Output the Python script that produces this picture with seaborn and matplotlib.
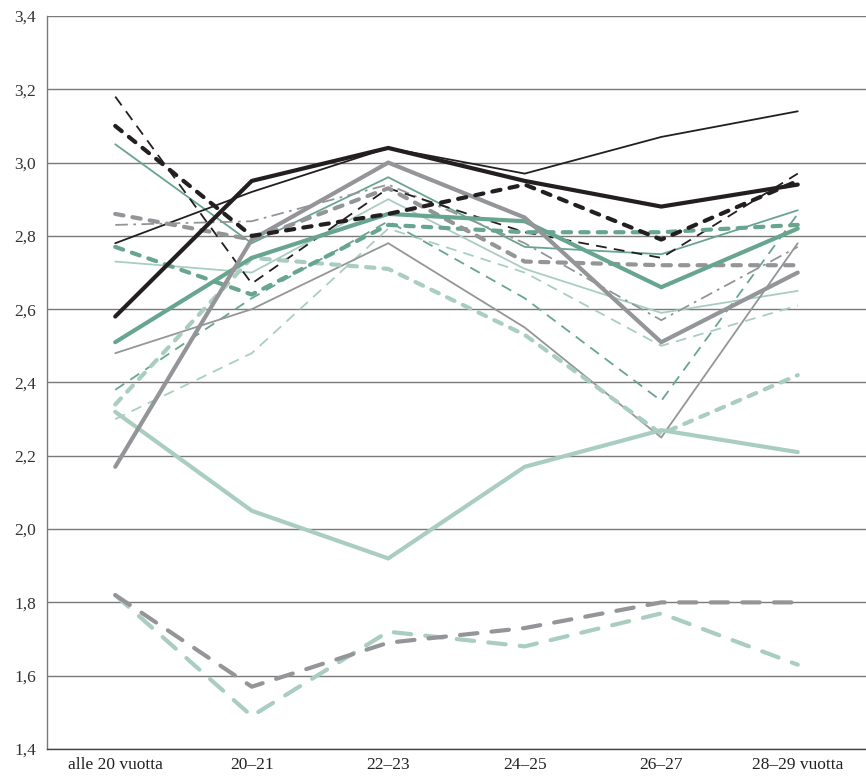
import pandas as pd
import matplotlib
matplotlib.use("Agg")
import matplotlib.pyplot as plt
import seaborn as sns

# Categories (x axis)
ages = ["alle 20 vuotta", "20–21", "22–23", "24–25", "26–27", "28–29 vuotta"]

# Series values
black_thick = [2.58, 2.95, 3.04, 2.95, 2.88, 2.94]
black_thin = [2.78, 2.92, 3.04, 2.97, 3.07, 3.14]
black_thick_dash = [3.10, 2.80, 2.86, 2.94, 2.79, 2.95]
black_thin_dash = [3.18, 2.67, 2.93, 2.81, 2.74, 2.97]
gray_thick = [2.17, 2.79, 3.00, 2.85, 2.51, 2.70]
gray_thin = [2.48, 2.60, 2.78, 2.55, 2.25, 2.78]
gray_thick_dash = [2.86, 2.79, 2.93, 2.73, 2.72, 2.72]
gray_thin_dashdot = [2.83, 2.84, 2.94, 2.78, 2.57, 2.77]
gray_long_dash = [1.82, 1.57, 1.69, 1.73, 1.80, 1.80]
green_thick = [2.51, 2.74, 2.86, 2.84, 2.66, 2.82]
green_thin = [3.05, 2.78, 2.96, 2.77, 2.75, 2.87]
green_thick_dash = [2.77, 2.64, 2.83, 2.81, 2.81, 2.83]
green_thin_dash = [2.38, 2.63, 2.84, 2.63, 2.35, 2.86]
lgreen_thick = [2.32, 2.05, 1.92, 2.17, 2.27, 2.21]
lgreen_thin = [2.73, 2.70, 2.90, 2.71, 2.59, 2.65]
lgreen_thick_dash = [2.34, 2.74, 2.71, 2.53, 2.26, 2.42]
lgreen_thin_dash = [2.30, 2.48, 2.82, 2.70, 2.50, 2.61]
lgreen_long_dash = [1.82, 1.49, 1.72, 1.68, 1.77, 1.63]

BLACK = "#231f20"
GRAY = "#939598"
GREEN = "#68a58f"
LGREEN = "#a9cec0"

THICK = 3.0
THIN = 1.3
dense = (0, (2.0, 2.2))
thin_dash = (0, (6, 4))
long_dash = (0, (4.2, 3.4))
dashdot = (0, (7, 3, 1.5, 3))

# (values, colour, width, linestyle)
series = [
    (lgreen_thin_dash, LGREEN, THIN, thin_dash),
    (lgreen_thin, LGREEN, THIN, "-"),
    (green_thin_dash, GREEN, THIN, thin_dash),
    (green_thin, GREEN, THIN, "-"),
    (gray_thin, GRAY, THIN, "-"),
    (gray_thin_dashdot, GRAY, THIN, dashdot),
    (black_thin_dash, BLACK, THIN, thin_dash),
    (black_thin, BLACK, THIN, "-"),
    (lgreen_thick, LGREEN, THICK, "-"),
    (lgreen_thick_dash, LGREEN, THICK, dense),
    (lgreen_long_dash, LGREEN, THICK, long_dash),
    (gray_long_dash, GRAY, THICK, long_dash),
    (green_thick_dash, GREEN, THICK, dense),
    (gray_thick_dash, GRAY, THICK, dense),
    (green_thick, GREEN, THICK, "-"),
    (gray_thick, GRAY, THICK, "-"),
    (black_thick_dash, BLACK, THICK, dense),
    (black_thick, BLACK, THICK, "-"),
]

sns.set_style("white")
plt.rcParams["font.family"] = ["Liberation Serif", "DejaVu Serif"]

fig = plt.figure(figsize=(8.66, 7.79), dpi=100)
ax = fig.add_axes([47 / 866, 30 / 779, 1 - 47 / 866, 733 / 779])

x = list(range(len(ages)))
for vals, col, lw, ls in series:
    df = pd.DataFrame({"x": x, "y": vals})
    sns.lineplot(data=df, x="x", y="y", ax=ax, color=col, linewidth=lw,
                 linestyle=ls, dash_capstyle="round" if lw == THICK else "butt",
                 solid_joinstyle="miter")

ax.set_xlim(-0.5, 5.5)
ax.set_ylim(1.4, 3.4)
yt = [1.4 + 0.2 * i for i in range(11)]
ax.set_yticks(yt)
ax.set_yticklabels([f"{v:.1f}".replace(".", ",") for v in yt], fontsize=12.5, color="#333333")
ax.set_xticks(x)
ax.set_xticklabels(ages, fontsize=12.5, color="#222222")
ax.tick_params(length=0, pad=6)
ax.tick_params(axis="y", pad=8)
ax.set_xlabel("")
ax.set_ylabel("")
ax.yaxis.grid(True, color="#7a7a7a", linewidth=1.0)
ax.set_axisbelow(True)
for s in ["top", "right"]:
    ax.spines[s].set_visible(False)
ax.spines["bottom"].set_color("#444444")
ax.spines["bottom"].set_linewidth(1.0)
ax.spines["left"].set_color("#7a7a7a")
ax.spines["left"].set_linewidth(1.0)

fig.savefig("out.png", dpi=100)
